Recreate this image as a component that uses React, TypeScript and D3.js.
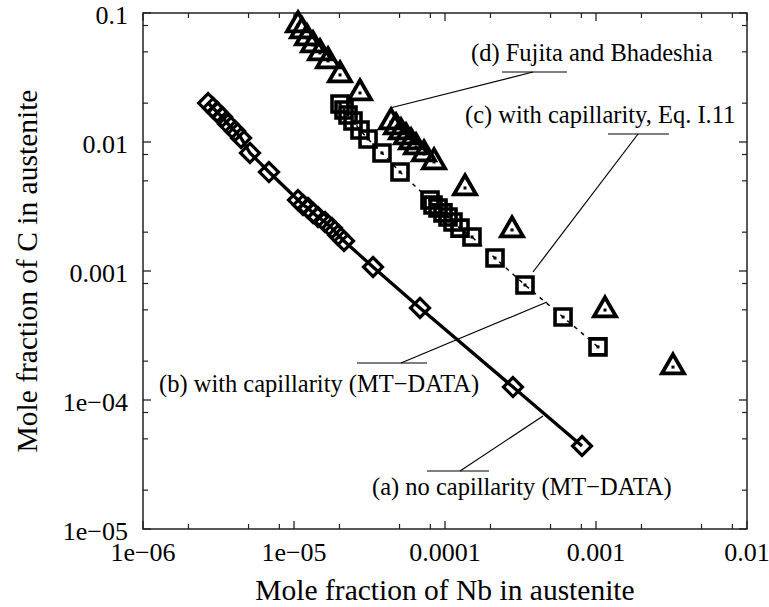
import React from "react";
import * as d3 from "d3";

// (a) no capillarity (MT-DATA): diamonds with solid line
const nbA = [2.70e-6, 2.91e-6, 3.09e-6, 3.34e-6, 3.66e-6, 4.07e-6, 4.46e-6, 5.11e-6, 6.83e-6, 1.063e-5, 1.147e-5, 1.238e-5, 1.336e-5, 1.442e-5, 1.604e-5, 1.785e-5, 1.956e-5, 2.144e-5, 3.336e-5, 6.83e-5, 2.82e-4, 8.08e-4];
const cA = [0.02005, 0.01835, 0.01709, 0.01563, 0.01378, 0.01217, 0.01074, 0.00822, 0.00585, 0.00355, 0.00325, 0.00308, 0.00282, 0.00262, 0.0024, 0.00215, 0.0019, 0.00171, 0.001074, 5.17e-4, 1.26e-4, 4.40e-5];

// (b)/(c) with capillarity: squares joined by dashed line
const nbC = [2.017e-5, 2.144e-5, 2.279e-5, 2.459e-5, 2.736e-5, 3.092e-5, 3.826e-5, 5.035e-5, 7.956e-5, 8.33e-5, 8.99e-5, 9.70e-5, 1.047e-4, 1.13e-4, 1.257e-4, 1.509e-4, 2.144e-4, 3.386e-4, 6.05e-4, 1.031e-3];
const cC = [0.0197, 0.0177, 0.01619, 0.01455, 0.01239, 0.01055, 0.00822, 0.00585, 0.00355, 0.00325, 0.00308, 0.00282, 0.00262, 0.0024, 0.00215, 0.001835, 0.00126, 7.79e-4, 4.40e-4, 2.58e-4];

// (d) Fujita and Bhadeshia: triangles
const nbD = [1.063e-5, 1.13e-5, 1.219e-5, 1.336e-5, 1.487e-5, 1.68e-5, 2.017e-5, 2.736e-5, 4.39e-5, 4.74e-5, 5.11e-5, 5.52e-5, 5.96e-5, 6.43e-5, 7.26e-5, 8.46e-5, 1.357e-4, 2.778e-4, 1.147e-3, 3.235e-3];
const cD = [0.0807, 0.0725, 0.064, 0.0565, 0.049, 0.0425, 0.0331, 0.024, 0.01429, 0.01307, 0.01195, 0.01093, 0.01, 0.00915, 0.00807, 0.007, 0.0044, 0.00208, 4.98e-4, 1.80e-4];

const xTickValues = [1e-6, 1e-5, 1e-4, 1e-3, 1e-2];
const xTickLabels = ["1e\u221206", "1e\u221205", "0.0001", "0.001", "0.01"];
const yTickValues = [1e-5, 1e-4, 1e-3, 1e-2, 1e-1];
const yTickLabels = ["1e\u221205", "1e\u221204", "0.001", "0.01", "0.1"];
const minorMultipliers = [2, 5, 8];

const xTitle = "Mole fraction of Nb in austenite";
const yTitle = "Mole fraction of C in austenite";

const annLabels = [
  "(d) Fujita and Bhadeshia",
  "(c) with capillarity, Eq. I.11",
  "(b) with capillarity (MT\u2212DATA)",
  "(a) no capillarity (MT\u2212DATA)",
];

const W = 769, H = 607;
const L = 143, R = 747, T = 13, B = 529;
const FONT = "'Liberation Serif', 'Times New Roman', serif";

// annotation layout (pixels)
const annLayout = [
  { tx: 471, ty: 61, hx1: 502, hx2: 567, hy: 72, lx1: 533, ly1: 72, lx2: 390, ly2: 108 },
  { tx: 465, ty: 123, hx1: 608, hx2: 669, hy: 134, lx1: 638, ly1: 134, lx2: 533, ly2: 272 },
  { tx: 159, ty: 392, hx1: 357, hx2: 427, hy: 363, lx1: 401, ly1: 363, lx2: 547, ly2: 302 },
  { tx: 372, ty: 495, hx1: 427, hx2: 489, hy: 471, lx1: 460, ly1: 471, lx2: 543, ly2: 416 },
];

export default function App() {
  const x = d3.scaleLog().domain([1e-6, 1e-2]).range([L, R]);
  const y = d3.scaleLog().domain([1e-5, 1e-1]).range([B, T]);

  const ptsA = nbA.map((v, i) => [x(v), y(cA[i])] as [number, number]);
  const ptsC = nbC.map((v, i) => [x(v), y(cC[i])] as [number, number]);
  const ptsD = nbD.map((v, i) => [x(v), y(cD[i])] as [number, number]);
  const line = d3.line();

  const xMinor: number[] = [];
  xTickValues.slice(0, -1).forEach((d) => minorMultipliers.forEach((m) => xMinor.push(d * m)));
  const yMinor: number[] = [];
  yTickValues.slice(0, -1).forEach((d) => minorMultipliers.forEach((m) => yMinor.push(d * m)));

  const axisColor = "#222";
  const maj = 8, mnr = 5;

  const diamond = (cx: number, cy: number, r = 9.5) =>
    `M${cx},${cy - r}L${cx + r},${cy}L${cx},${cy + r}L${cx - r},${cy}Z`;
  const square = (cx: number, cy: number, h = 8) =>
    `M${cx - h},${cy - h}H${cx + h}V${cy + h}H${cx - h}Z`;
  const tri = (cx: number, cy: number, s = 22) => {
    const hgt = (s * Math.sqrt(3)) / 2;
    return `M${cx},${cy - (2 * hgt) / 3}L${cx + s / 2},${cy + hgt / 3}L${cx - s / 2},${cy + hgt / 3}Z`;
  };

  return (
    <svg width={W} height={H} style={{ position: "absolute", left: 0, top: 0, background: "#fff" }} fontFamily={FONT}>
      <rect x={0} y={0} width={W} height={H} fill="#fff" />
      {/* frame */}
      <rect x={L} y={T} width={R - L} height={B - T} fill="none" stroke={axisColor} strokeWidth={1.5} />
      {/* x ticks */}
      {xTickValues.map((v, i) => (
        <g key={"xt" + i}>
          <line x1={x(v)} x2={x(v)} y1={B} y2={B - maj} stroke={axisColor} strokeWidth={1.3} />
          <line x1={x(v)} x2={x(v)} y1={T} y2={T + maj} stroke={axisColor} strokeWidth={1.3} />
          <text x={x(v)} y={561} textAnchor="middle" fontSize={26} fill="#000">{xTickLabels[i]}</text>
        </g>
      ))}
      {xMinor.map((v, i) => (
        <g key={"xm" + i}>
          <line x1={x(v)} x2={x(v)} y1={B} y2={B - mnr} stroke={axisColor} strokeWidth={1.2} />
          <line x1={x(v)} x2={x(v)} y1={T} y2={T + mnr} stroke={axisColor} strokeWidth={1.2} />
        </g>
      ))}
      {/* y ticks */}
      {yTickValues.map((v, i) => (
        <g key={"yt" + i}>
          <line x1={L} x2={L + maj} y1={y(v)} y2={y(v)} stroke={axisColor} strokeWidth={1.3} />
          <line x1={R} x2={R - maj} y1={y(v)} y2={y(v)} stroke={axisColor} strokeWidth={1.3} />
          <text x={128} y={y(v) + 11} textAnchor="end" fontSize={26} fill="#000">{yTickLabels[i]}</text>
        </g>
      ))}
      {yMinor.map((v, i) => (
        <g key={"ym" + i}>
          <line x1={L} x2={L + mnr} y1={y(v)} y2={y(v)} stroke={axisColor} strokeWidth={1.2} />
          <line x1={R} x2={R - mnr} y1={y(v)} y2={y(v)} stroke={axisColor} strokeWidth={1.2} />
        </g>
      ))}
      {/* axis titles */}
      <text x={(L + R) / 2} y={600} textAnchor="middle" fontSize={29.5} fill="#000">{xTitle}</text>
      <text transform={`translate(37,${(T + B) / 2}) rotate(-90)`} textAnchor="middle" fontSize={29.5} fill="#000">{yTitle}</text>

      {/* series lines */}
      <path d={line(ptsA) || ""} fill="none" stroke="#000" strokeWidth={3.3} />
      <path d={line(ptsC) || ""} fill="none" stroke="#000" strokeWidth={1.5} strokeDasharray="4,5" />

      {/* markers */}
      {ptsA.map(([px, py], i) => (
        <path key={"a" + i} d={diamond(px, py)} fill="none" stroke="#000" strokeWidth={3.2} />
      ))}
      {ptsC.map(([px, py], i) => (
        <g key={"c" + i}>
          <path d={square(px, py)} fill="none" stroke="#000" strokeWidth={3.6} />
          <rect x={px - 1.5} y={py - 1.5} width={3} height={3} fill="#000" />
        </g>
      ))}
      {ptsD.map(([px, py], i) => (
        <g key={"d" + i}>
          <path d={tri(px, py)} fill="none" stroke="#000" strokeWidth={3.8} strokeLinejoin="miter" />
          <rect x={px - 1.5} y={py - 1.5} width={3} height={3} fill="#000" />
        </g>
      ))}

      {/* annotations */}
      {annLayout.map((a, i) => (
        <g key={"ann" + i}>
          <text x={a.tx} y={a.ty} fontSize={24.5} fill="#000">{annLabels[i]}</text>
          <line x1={a.hx1} x2={a.hx2} y1={a.hy} y2={a.hy} stroke="#000" strokeWidth={1.2} />
          <line x1={a.lx1} y1={a.ly1} x2={a.lx2} y2={a.ly2} stroke="#000" strokeWidth={1.2} />
        </g>
      ))}
    </svg>
  );
}
